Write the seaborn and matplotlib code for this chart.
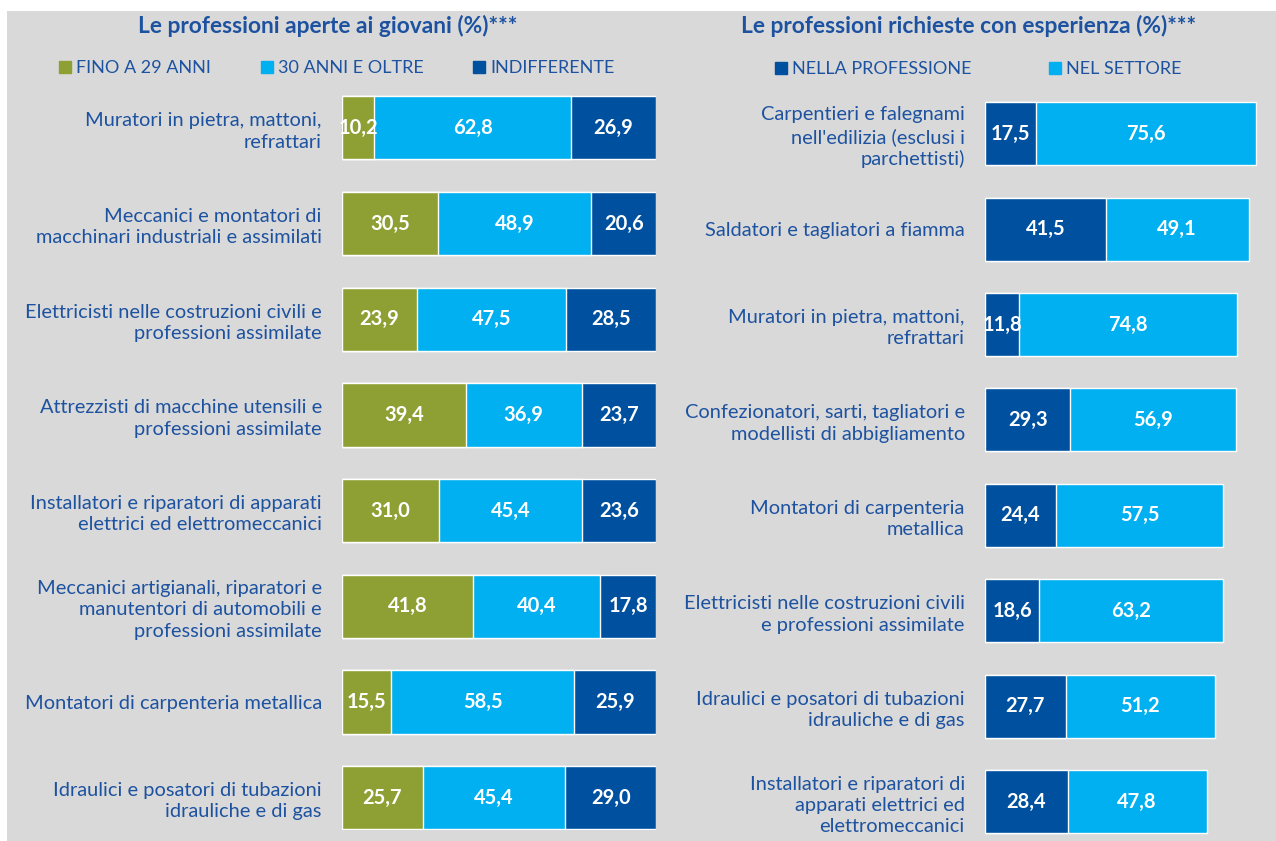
import matplotlib
matplotlib.use('Agg')
import matplotlib.pyplot as plt
from matplotlib.patches import Patch, Rectangle
import seaborn as sns
import pandas as pd

# data
prof_giovani = ["Muratori in pietra, mattoni,\nrefrattari",
                "Meccanici e montatori di\nmacchinari industriali e assimilati",
                "Elettricisti nelle costruzioni civili e\nprofessioni assimilate",
                "Attrezzisti di macchine utensili e\nprofessioni assimilate",
                "Installatori e riparatori di apparati\nelettrici ed elettromeccanici",
                "Meccanici artigianali, riparatori e\nmanutentori di automobili e\nprofessioni assimilate",
                "Montatori di carpenteria metallica",
                "Idraulici e posatori di tubazioni\nidrauliche e di gas"]
fino_29 = [10.2, 30.5, 23.9, 39.4, 31.0, 41.8, 15.5, 25.7]
oltre_30 = [62.8, 48.9, 47.5, 36.9, 45.4, 40.4, 58.5, 45.4]
indifferente = [26.9, 20.6, 28.5, 23.7, 23.6, 17.8, 25.9, 29.0]

prof_esperienza = ["Carpentieri e falegnami\nnell'edilizia (esclusi i\nparchettisti)",
                   "Saldatori e tagliatori a fiamma",
                   "Muratori in pietra, mattoni,\nrefrattari",
                   "Confezionatori, sarti, tagliatori e\nmodellisti di abbigliamento",
                   "Montatori di carpenteria\nmetallica",
                   "Elettricisti nelle costruzioni civili\ne professioni assimilate",
                   "Idraulici e posatori di tubazioni\nidrauliche e di gas",
                   "Installatori e riparatori di\napparati elettrici ed\nelettromeccanici"]
nella_professione = [17.5, 41.5, 11.8, 29.3, 24.4, 18.6, 27.7, 28.4]
nel_settore = [75.6, 49.1, 74.8, 56.9, 57.5, 63.2, 51.2, 47.8]

OLIVE = '#8EA033'
LIGHT = '#00B0F0'
DARK = '#0050A0'
TXT = '#1D52A0'
BG = '#D9D9D9'

sns.set_style('white')
plt.rcParams['font.family'] = ['Lato', 'DejaVu Sans']

W, H = 1276, 841
fig = plt.figure(figsize=(W / 100, H / 100), dpi=100, facecolor='white')
fig.patches.append(Rectangle((7 / W, 0), 1, 1 - 11 / H, transform=fig.transFigure,
                             facecolor=BG, edgecolor='none', zorder=-10))


def fmt(v):
    return f"{v:.1f}".replace('.', ',')


def setup(ax, ylim_bottom):
    ax.set_facecolor('none')
    ax.set_xlim(0, 100)
    ax.set_ylim(ylim_bottom, -0.5)
    ax.set_xlabel('')
    ax.set_ylabel('')
    ax.set_xticks([])
    ax.tick_params(axis='y', length=0, pad=14.5, labelsize=14.4, labelcolor=TXT)
    for lbl in ax.get_yticklabels():
        lbl.set_linespacing(1.3)
    sns.despine(ax=ax, left=True, bottom=True)


# left chart: stacked by overlaying cumulative bars
df1 = pd.DataFrame({'prof': prof_giovani, 'a': fino_29, 'b': oltre_30, 'c': indifferente})
df1['ab'] = df1['a'] + df1['b']
df1['abc'] = df1['ab'] + df1['c']

ax1 = fig.add_axes([342 / W, 1 - 830 / H, 314 / W, 750 / H])
sns.barplot(data=df1, x='abc', y='prof', orient='h', color=DARK, width=0.66,
            saturation=1, ax=ax1)
sns.barplot(data=df1, x='ab', y='prof', orient='h', color=LIGHT, width=0.66,
            saturation=1, ax=ax1)
sns.barplot(data=df1, x='a', y='prof', orient='h', color=OLIVE, width=0.66,
            saturation=1, ax=ax1)
setup(ax1, 7.337)
for i, row in df1.iterrows():
    for start, val in [(0, row['a']), (row['a'], row['b']), (row['ab'], row['c'])]:
        ax1.text(start + val / 2, i, fmt(val), ha='center', va='center',
                 color='white', fontsize=14.5, fontweight='bold')

# right chart
df2 = pd.DataFrame({'prof': prof_esperienza, 'p': nella_professione, 's': nel_settore})
df2['tot'] = df2['p'] + df2['s']

ax2 = fig.add_axes([985 / W, 1 - 836 / H, 291 / W, 750 / H])
sns.barplot(data=df2, x='tot', y='prof', orient='h', color=LIGHT, width=0.66,
            saturation=1, ax=ax2)
sns.barplot(data=df2, x='p', y='prof', orient='h', color=DARK, width=0.66,
            saturation=1, ax=ax2)
setup(ax2, 7.36)
for i, row in df2.iterrows():
    for start, val in [(0, row['p']), (row['p'], row['s'])]:
        ax2.text(start + val / 2, i, fmt(val), ha='center', va='center',
                 color='white', fontsize=14.5, fontweight='bold')

# titles
fig.text(328 / W, 1 - 26 / H, "Le professioni aperte ai giovani (%)***", ha='center',
         va='center', color=TXT, fontsize=16.4, fontweight='bold')
fig.text(969 / W, 1 - 26 / H, "Le professioni richieste con esperienza (%)***", ha='center',
         va='center', color=TXT, fontsize=16.4, fontweight='bold')

# legends
h1 = [Patch(color=OLIVE), Patch(color=LIGHT), Patch(color=DARK)]
fig.legend(h1, ['FINO A 29 ANNI', '30 ANNI E OLTRE', 'INDIFFERENTE'], loc='center',
           bbox_to_anchor=(337 / W, 1 - 68 / H), ncol=3, frameon=False, fontsize=13,
           handlelength=0.67, handleheight=0.67, handletextpad=0.28, columnspacing=2.75,
           labelcolor=TXT)
h2 = [Patch(color=DARK), Patch(color=LIGHT)]
fig.legend(h2, ['NELLA PROFESSIONE', 'NEL SETTORE'], loc='center',
           bbox_to_anchor=(978 / W, 1 - 69.5 / H), ncol=2, frameon=False, fontsize=13,
           handlelength=0.67, handleheight=0.67, handletextpad=0.28, columnspacing=4.3,
           labelcolor=TXT)

fig.savefig('out.png', dpi=100, facecolor=fig.get_facecolor())
